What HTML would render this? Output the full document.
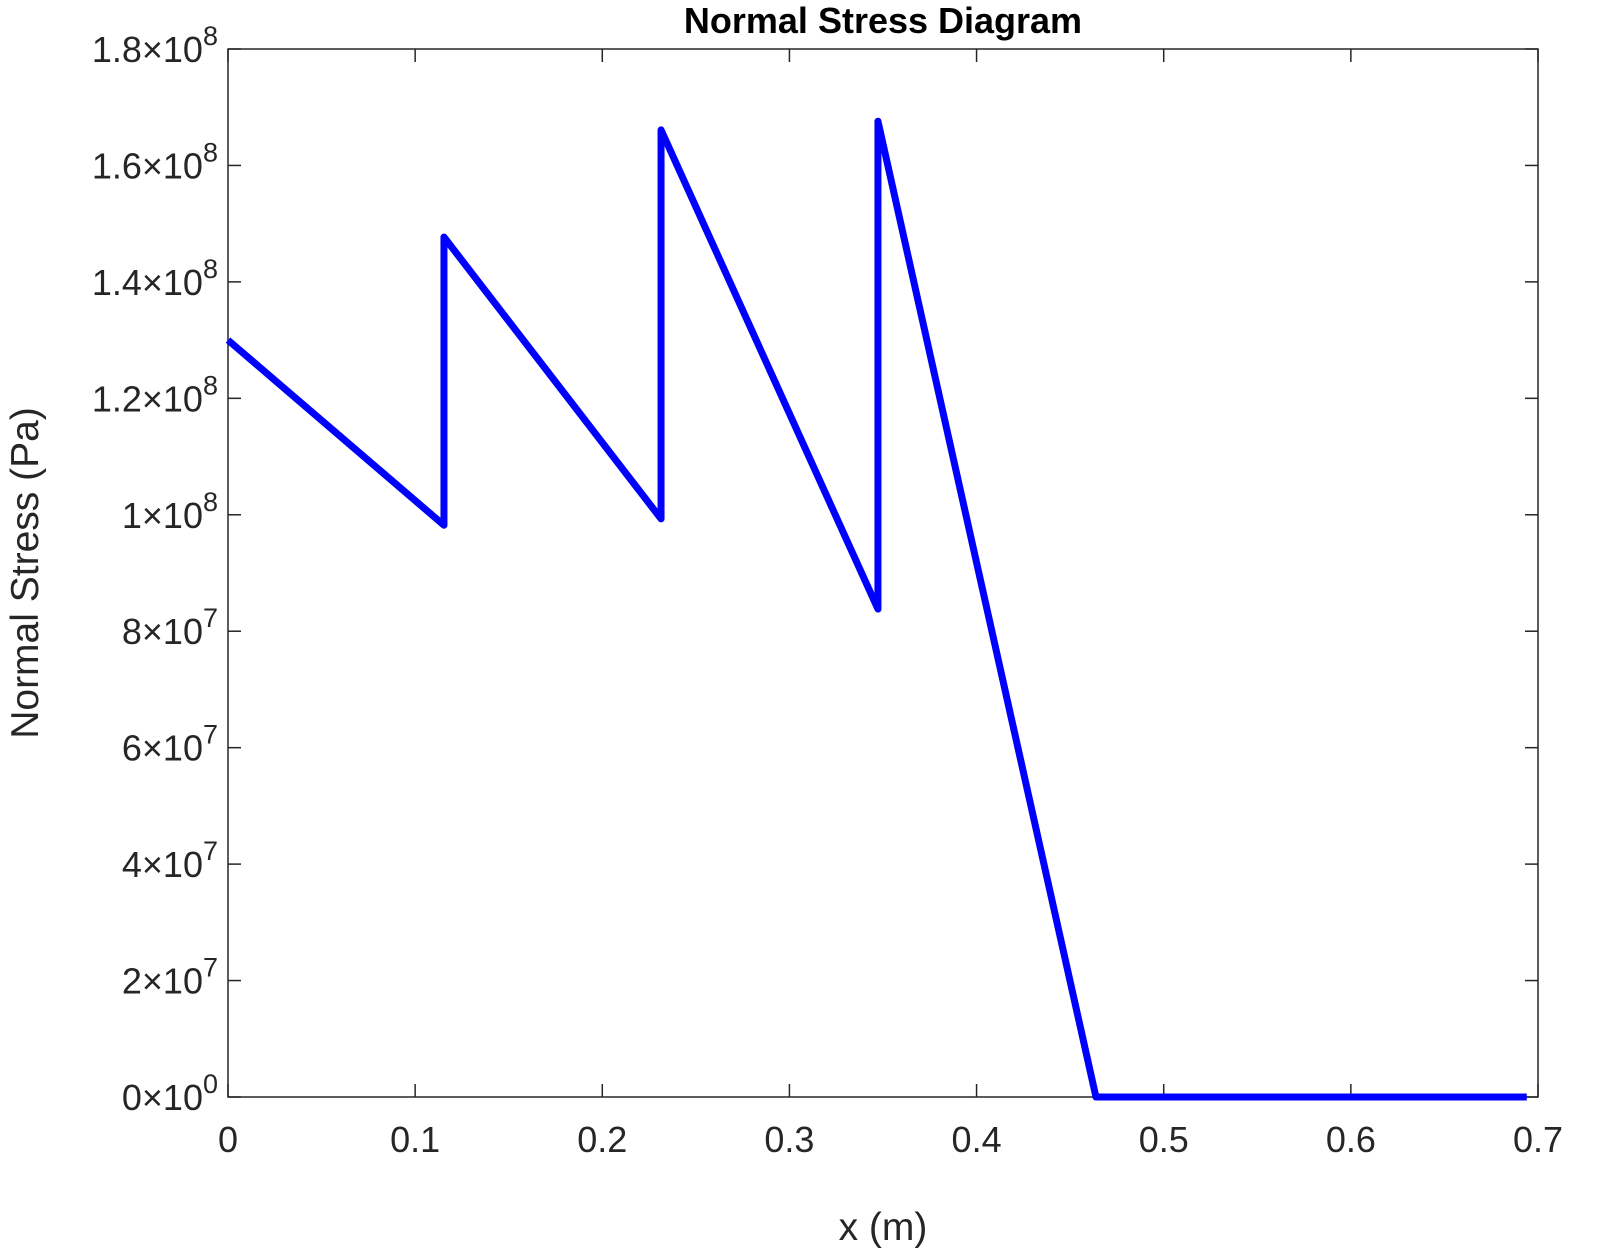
<!DOCTYPE html>
<html><head><meta charset="utf-8"><style>
html,body{margin:0;padding:0;background:#fff;}
svg{display:block;font-family:"Liberation Sans",Arial,sans-serif;}
</style></head><body>
<svg id="chart" width="1603" height="1253" viewBox="0 0 1603 1253" xmlns="http://www.w3.org/2000/svg">
<rect x="0" y="0" width="1603" height="1253" fill="#fff"/>
<text x="883" y="33" text-anchor="middle" font-size="36" font-weight="bold" fill="#000">Normal Stress Diagram</text>
<g id="axes"></g>
<text x="883" y="1240" text-anchor="middle" font-size="39" fill="#262626">x (m)</text>
<text transform="translate(38,573) rotate(-90)" text-anchor="middle" font-size="39" fill="#262626">Normal Stress (Pa)</text>
</svg>
<script>
const xs = [0, 0.1154, 0.1154, 0.2314, 0.2314, 0.3473, 0.3473, 0.4638, 0.694];
const ys = [1.300e8, 0.982e8, 1.477e8, 0.993e8, 1.661e8, 0.838e8, 1.676e8, 0, 0];
const xTicks = [0, 0.1, 0.2, 0.3, 0.4, 0.5, 0.6, 0.7];
const xTickLabels = ["0","0.1","0.2","0.3","0.4","0.5","0.6","0.7"];
const yTicks = [0, 2e7, 4e7, 6e7, 8e7, 1e8, 1.2e8, 1.4e8, 1.6e8, 1.8e8];
const yMant = ["0","2","4","6","8","1","1.2","1.4","1.6","1.8"];
const yExp = ["0","7","7","7","7","8","8","8","8","8"];

const L=228,R=1538,T=49,B=1097;
const xScale=v=>L+(v-0)/(0.7-0)*(R-L);
const yScale=v=>B-(v-0)/(1.8e8)*(B-T);
const NS="http://www.w3.org/2000/svg";
const g=document.getElementById('axes');
function mk(tag,attrs,parent){const e=document.createElementNS(NS,tag);for(const k in attrs)e.setAttribute(k,attrs[k]);(parent||g).appendChild(e);return e;}

const box=mk('rect',{x:L,y:T,width:R-L,height:B-T,fill:'none',stroke:'#262626','stroke-width':1.5});



xTicks.forEach((t,i)=>{
  const x=xScale(t);
  mk('line',{x1:x,x2:x,y1:B,y2:B-13,stroke:'#262626','stroke-width':1.5});
  mk('line',{x1:x,x2:x,y1:T,y2:T+13,stroke:'#262626','stroke-width':1.5});
  const tx=mk('text',{x:x,y:B+55,'text-anchor':'middle','font-size':36,fill:'#262626'});
  tx.textContent=xTickLabels[i];
  
  
});
yTicks.forEach((t,i)=>{
  const y=yScale(t);
  mk('line',{x1:L,x2:L+13,y1:y,y2:y,stroke:'#262626','stroke-width':1.5});
  mk('line',{x1:R,x2:R-13,y1:y,y2:y,stroke:'#262626','stroke-width':1.5});
  const tx=mk('text',{x:L-10,y:y+13,'text-anchor':'end','font-size':36,fill:'#262626'});
  
  
  const a=document.createElementNS(NS,'tspan');a.textContent=yMant[i]+"\u00D710";tx.appendChild(a);
  const b=document.createElementNS(NS,'tspan');b.setAttribute('dy','-17');b.setAttribute('font-size','27');b.textContent=yExp[i];tx.appendChild(b);
});

const pts=xs.map((x,i)=>xScale(x)+','+yScale(ys[i])).join(' ');
const line=mk('polyline',{points:pts,fill:'none',stroke:'#0000ff','stroke-width':7,'stroke-linejoin':'round'});


</script>
</body></html>
